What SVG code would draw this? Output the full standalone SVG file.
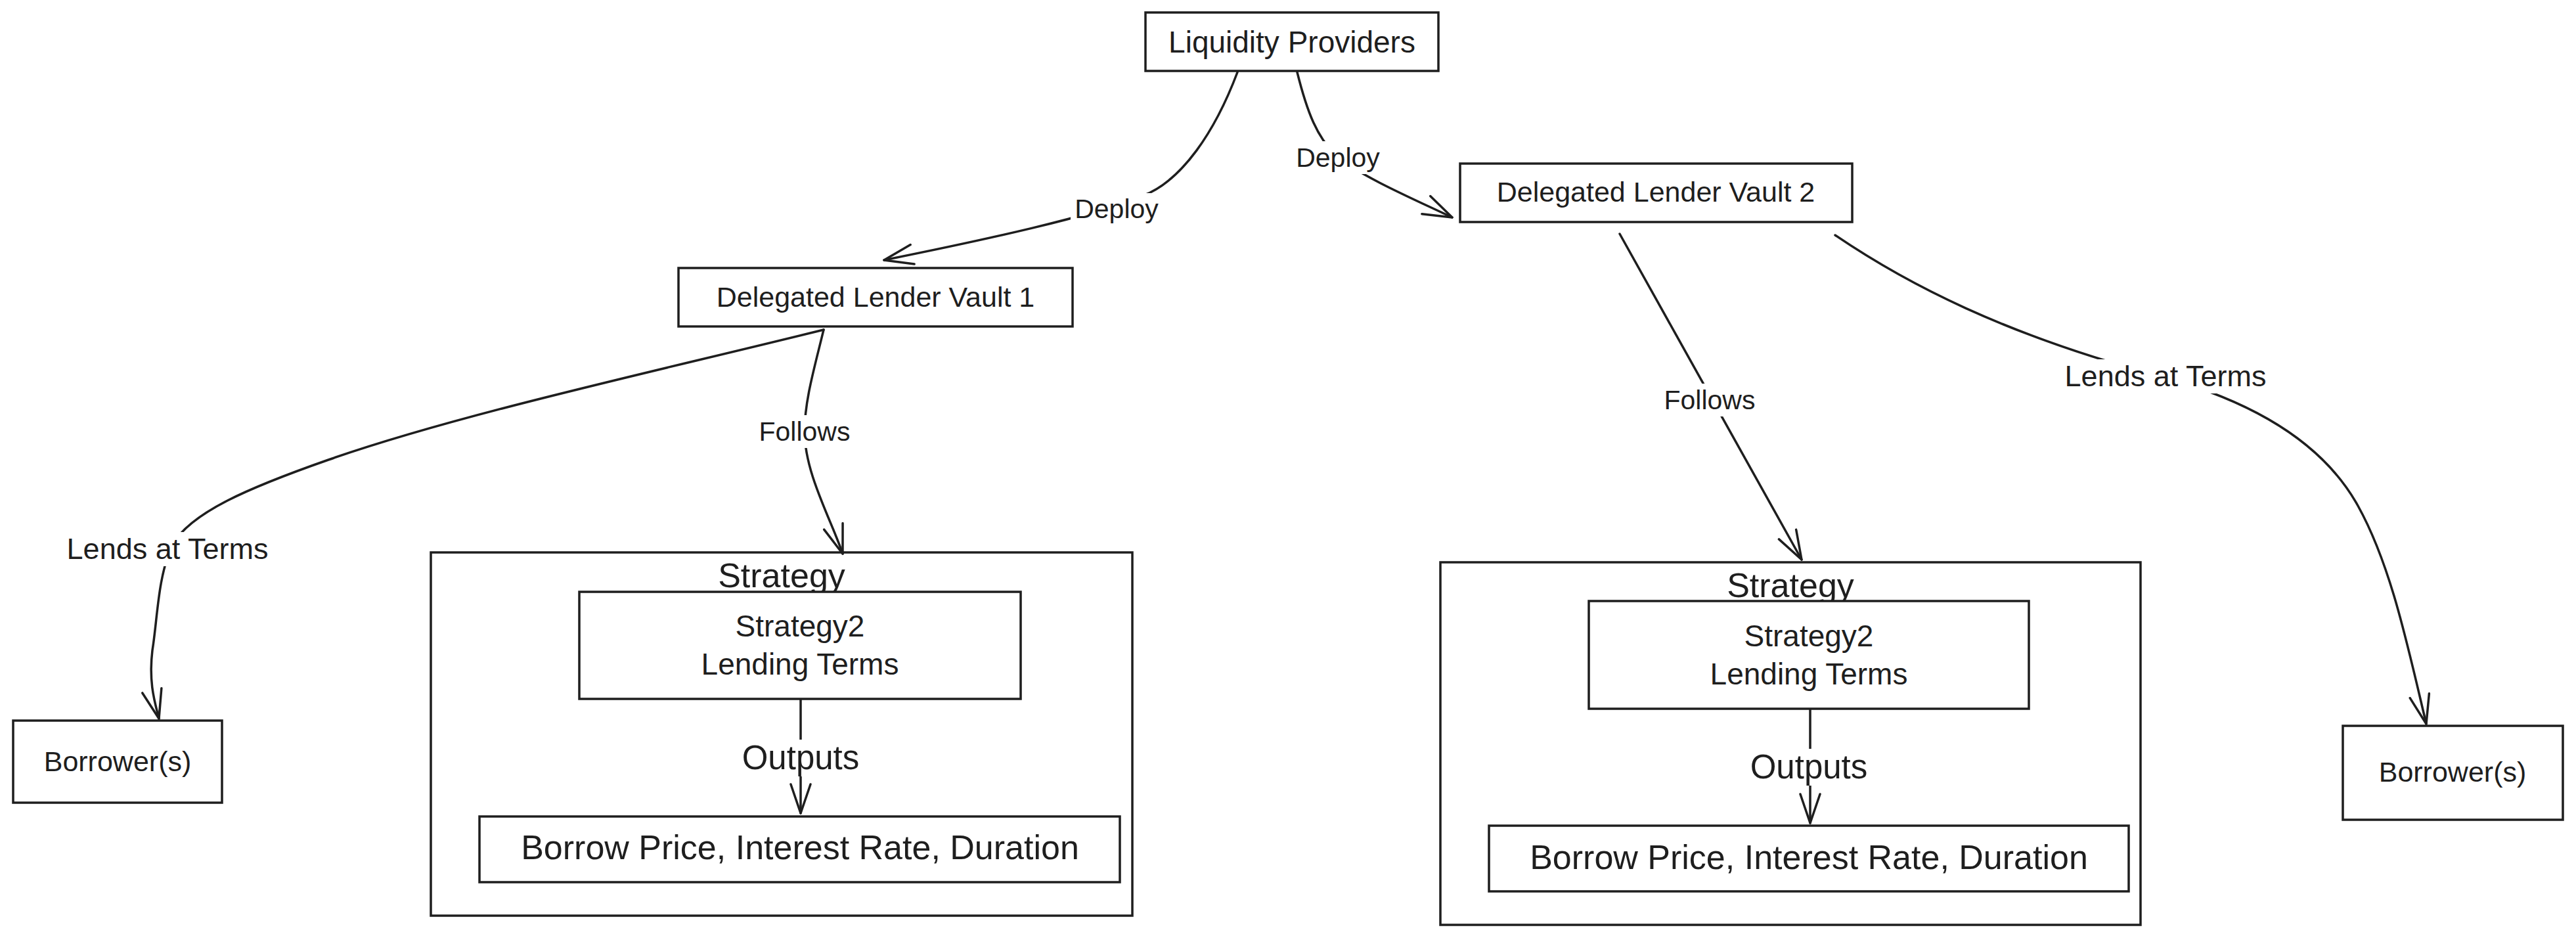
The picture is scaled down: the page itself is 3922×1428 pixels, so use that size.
<svg xmlns="http://www.w3.org/2000/svg" width="3922" height="1428" viewBox="0 0 3922 1428">
<style>
.box{fill:#ffffff;stroke:#1e1e1e;stroke-width:3.5}
.container{fill:none;stroke:#1e1e1e;stroke-width:3.5}
.edge{fill:none;stroke:#1e1e1e;stroke-width:3.5;stroke-linecap:round;marker-end:url(#arrow)}
.lblbg{fill:#ffffff;stroke:none}
text{font-family:"Liberation Sans",Arial,sans-serif;fill:#1e1e1e;text-anchor:middle;dominant-baseline:central}
.n{font-size:43px}
.s{font-size:46px}
.big{font-size:52px}
.e{font-size:41px}
.e2{font-size:45px}
.o{font-size:51px}
</style>
<defs>
<marker id="arrow" viewBox="0 0 48 34" refX="46" refY="17" markerWidth="48" markerHeight="34" markerUnits="userSpaceOnUse" orient="auto">
<path d="M2,2 L46,17 L2,32" fill="none" stroke="#1e1e1e" stroke-width="3.5" stroke-linecap="round" stroke-linejoin="round"/>
</marker>
</defs>
<rect width="3922" height="1428" fill="#ffffff"/>

<g id="liquidity-providers">
<rect class="box" x="1744" y="19" width="446" height="89"/>
<text class="s" x="1967" y="64">Liquidity Providers</text>
</g>

<g id="vault-1">
<rect class="box" x="1033" y="408" width="600" height="89"/>
<text class="n" x="1333" y="452">Delegated Lender Vault 1</text>
</g>

<g id="vault-2">
<rect class="box" x="2223" y="249" width="597" height="89"/>
<text class="n" x="2521" y="292">Delegated Lender Vault 2</text>
</g>

<g id="borrowers-1">
<rect class="box" x="20" y="1097" width="318" height="125"/>
<text class="n" x="179" y="1159">Borrower(s)</text>
</g>

<g id="borrowers-2">
<rect class="box" x="3567" y="1105" width="335" height="143"/>
<text class="n" x="3734" y="1175">Borrower(s)</text>
</g>

<g id="strategy-1">
<rect class="container" x="656" y="841" width="1068" height="553"/>
<text class="big" x="1190" y="876">Strategy</text>
<g id="strategy-1-terms">
<rect class="box" x="882" y="901" width="672" height="163"/>
<text class="s" x="1218" y="953">Strategy2</text>
<text class="s" x="1218" y="1011">Lending Terms</text>
</g>
<g id="strategy-1-outputs">
<rect class="box" x="730" y="1243" width="975" height="100"/>
<text class="big" x="1218" y="1290">Borrow Price, Interest Rate, Duration</text>
</g>
</g>

<g id="strategy-2">
<rect class="container" x="2193" y="856" width="1066" height="552"/>
<text class="big" x="2726" y="891">Strategy</text>
<g id="strategy-2-terms">
<rect class="box" x="2419" y="915" width="670" height="164"/>
<text class="s" x="2754" y="968">Strategy2</text>
<text class="s" x="2754" y="1026">Lending Terms</text>
</g>
<g id="strategy-2-outputs">
<rect class="box" x="2267" y="1257" width="974" height="100"/>
<text class="big" x="2754" y="1305">Borrow Price, Interest Rate, Duration</text>
</g>
</g>

<g id="connectors">
<path class="edge" d="M1884,110 C1850,200 1800,275 1740,298 C1660,330 1500,365 1346,396"/>
<path class="edge" d="M1975,110 C1990,170 2005,210 2037,240 C2080,272 2150,302 2211,331"/>
<path class="edge" d="M1254,502 C1240,560 1225,610 1225,657 C1225,720 1265,790 1283,843"/>
<path class="edge" d="M1254,502 C1000,565 700,630 500,700 C380,742 290,780 262,830 C240,880 240,940 232,990 C226,1040 236,1070 242,1094"/>
<path class="edge" d="M2466,356 L2743,852"/>
<path class="edge" d="M2794,358 C2900,430 3050,510 3297,575 C3440,615 3540,680 3590,770 C3640,860 3665,980 3694,1102"/>
<path class="edge" d="M1219,1065 L1219,1238"/>
<path class="edge" d="M2756,1080 L2756,1253"/>
<g id="edge-labels">
<rect class="lblbg" x="1630" y="294" width="140" height="50"/>
<text class="e" x="1700" y="318">Deploy</text>
<rect class="lblbg" x="1967" y="215" width="140" height="50"/>
<text class="e" x="2037" y="240">Deploy</text>
<rect class="lblbg" x="1152" y="632" width="146" height="50"/>
<text class="e" x="1225" y="657">Follows</text>
<rect class="lblbg" x="2530" y="584" width="146" height="50"/>
<text class="e" x="2603" y="609">Follows</text>
<rect class="lblbg" x="95" y="810" width="320" height="52"/>
<text class="e2" x="255" y="835">Lends at Terms</text>
<rect class="lblbg" x="3137" y="547" width="320" height="52"/>
<text class="e2" x="3297" y="572">Lends at Terms</text>
<rect class="lblbg" x="1127" y="1126" width="184" height="56"/>
<text class="o" x="1219" y="1153">Outputs</text>
<rect class="lblbg" x="2662" y="1140" width="184" height="56"/>
<text class="o" x="2754" y="1167">Outputs</text>
</g>
</g>
</svg>
